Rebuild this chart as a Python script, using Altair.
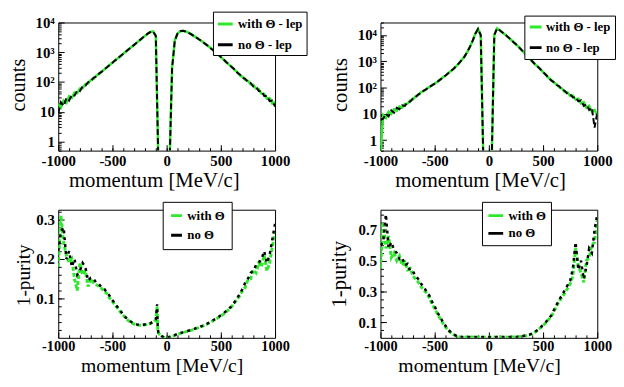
import altair as alt
import pandas as pd

GREEN = "#2ee82e"
BLACK = "#000000"
SERIF = "Liberation Serif"

# ---------------- data ----------------
X_TOP = list(range(-1000, 1001, 25))
X_BR = list(range(-1000, 1001, 25))
X_BL = list(range(-1000, -99, 25)) + [-88, -82] + list(range(-75, 1001, 25))

TOP_NAMES = ["with Θ - lep", "no Θ - lep"]
BOT_NAMES = ["with Θ", "no Θ"]

TL_WITH = [19, 14, 24, 20, 33, 29, 45, 42, 61, 62, 85, 90, 117, 128, 163, 184, 229, 262, 320, 372,
           452, 528, 635, 746, 895, 1055, 1262, 1492, 1781, 2110, 2515, 2980, 3550, 4210, 4790, 5000, 3600,
           0.1, 0.1, 0.1, 0.1, 0.1,
           300, 2500, 4200, 5130, 5250, 5010, 4570, 4070, 3550, 3100, 2690, 2340, 2000, 1700, 1445,
           1200, 1000, 832, 700, 570, 472, 385, 330, 258, 220, 168, 150, 118, 110, 84, 80, 60, 58,
           41, 40, 28, 29, 19, 22]
TL_NO = [9, 21, 16, 29, 24, 37, 35, 52, 50, 72, 75, 99, 108, 138, 153, 192, 220, 270, 312, 380,
         443, 535, 628, 754, 887, 1063, 1256, 1500, 1775, 2116, 2509, 2990, 3545, 4220, 4780, 5020, 3500,
         0.1, 0.1, 0.1, 0.1, 0.1,
         280, 2450, 4250, 5100, 5240, 5020, 4560, 4080, 3540, 3110, 2680, 2350, 1990, 1710, 1440,
         1205, 995, 836, 688, 580, 464, 393, 318, 268, 208, 180, 140, 128, 100, 93, 71, 69, 50,
         49, 34, 34, 23, 24, 15]

TR_WITH = [0.3, 9, 7, 12, 10, 15, 13, 19, 17.5, 24, 24.5, 33, 35.5, 47, 52.5, 66.5, 74.5, 90.5, 104, 124,
           140, 167, 199, 241, 287, 356, 426, 526, 660, 852, 1120, 1516, 2235, 3550, 6020, 11200, 17000, 10100,
           0.1, 0.1, 0.1, 0.1,
           9900, 17800, 15100, 12600, 10450, 8530, 6900, 5510, 4450, 3560, 2745, 2145, 1655, 1292, 997,
           779, 628, 505, 386, 312, 237, 194, 155, 133, 103, 91, 68, 66, 48, 50, 35, 38, 25, 28, 17,
           20, 12, 14, 9]
TR_NO = [6, 6.5, 10, 8, 13.5, 11, 17, 15, 21, 20, 28, 29.5, 39, 43.5, 55.5, 63.5, 77.5, 87.5, 106, 122,
         142, 165, 201, 239, 289, 354, 428, 524, 662, 850, 1124, 1512, 2243, 3546, 6030, 11240, 16960, 9900,
         0.1, 0.1, 0.1, 0.1,
         10100, 17760, 15180, 12580, 10490, 8490, 6936, 5480, 4484, 3536, 2763, 2131, 1665, 1284, 1003,
         773, 634, 497, 392, 306, 243, 188, 161, 125, 111, 83, 76, 58, 56, 42, 43, 30, 33, 20, 23,
         14, 17, 3, 11]

BL_WITH = [0.18, 0.31, 0.24, 0.21, 0.19, 0.20, 0.15, 0.12, 0.19, 0.16, 0.17, 0.13, 0.15, 0.14, 0.135,
           0.13, 0.125, 0.118, 0.112, 0.10, 0.092, 0.083, 0.074, 0.065, 0.057, 0.049, 0.043, 0.038,
           0.035, 0.033, 0.032, 0.032, 0.033, 0.034, 0.036, 0.040, 0.045,
           0.080, 0.018,
           0.012, 0.004, 0.001, 0.000, 0.002, 0.004, 0.006, 0.009, 0.011, 0.013, 0.015, 0.018, 0.019,
           0.021, 0.024, 0.026, 0.029, 0.032, 0.035, 0.039, 0.043, 0.047, 0.051, 0.056, 0.060, 0.066,
           0.072, 0.079, 0.088, 0.098, 0.107, 0.120, 0.128, 0.148, 0.150, 0.172, 0.165, 0.19, 0.18,
           0.21, 0.17, 0.19, 0.23, 0.27]
BL_NO = [0.22, 0.27, 0.28, 0.20, 0.22, 0.18, 0.20, 0.16, 0.17, 0.19, 0.18, 0.145, 0.152, 0.15, 0.14,
         0.136, 0.128, 0.124, 0.115, 0.106, 0.096, 0.086, 0.077, 0.068, 0.059, 0.051, 0.045, 0.040,
         0.036, 0.034, 0.033, 0.033, 0.034, 0.035, 0.037, 0.041, 0.047,
         0.085, 0.022,
         0.013, 0.005, 0.001, 0.000, 0.002, 0.005, 0.007, 0.010, 0.012, 0.014, 0.016, 0.018, 0.020,
         0.022, 0.025, 0.027, 0.030, 0.033, 0.036, 0.040, 0.044, 0.048, 0.052, 0.057, 0.062, 0.068,
         0.074, 0.081, 0.090, 0.100, 0.112, 0.124, 0.140, 0.150, 0.165, 0.170, 0.185, 0.19, 0.20,
         0.22, 0.19, 0.21, 0.25, 0.29]

BR_WITH = [0.45, 0.75, 0.58, 0.66, 0.52, 0.55, 0.50, 0.53, 0.47, 0.49, 0.44, 0.45, 0.40, 0.38, 0.36,
           0.33, 0.31, 0.29, 0.26, 0.22, 0.19, 0.155, 0.125, 0.095, 0.07, 0.048, 0.033, 0.02, 0.011,
           0.006, 0.005, 0.004, 0.006, 0.004, 0.005, 0.003, 0.005, 0.004, 0.006, 0.004, 0.005, 0.003,
           0.005, 0.004, 0.006, 0.004, 0.005, 0.004, 0.006, 0.005, 0.006, 0.007, 0.009, 0.012, 0.015,
           0.019, 0.025, 0.036, 0.050, 0.064, 0.080, 0.098, 0.118, 0.138, 0.170, 0.205, 0.24, 0.265,
           0.29, 0.32, 0.35, 0.40, 0.58, 0.47, 0.42, 0.36, 0.50, 0.52, 0.60, 0.62, 0.76]
BR_NO = [0.60, 0.62, 0.80, 0.58, 0.62, 0.57, 0.55, 0.51, 0.52, 0.47, 0.48, 0.43, 0.43, 0.40, 0.38,
         0.35, 0.33, 0.30, 0.275, 0.235, 0.205, 0.165, 0.135, 0.105, 0.078, 0.052, 0.036, 0.023, 0.013,
         0.008, 0.005, 0.006, 0.004, 0.006, 0.004, 0.006, 0.004, 0.005, 0.004, 0.006, 0.004, 0.005,
         0.004, 0.006, 0.004, 0.005, 0.006, 0.004, 0.005, 0.006, 0.005, 0.008, 0.010, 0.013, 0.017,
         0.021, 0.028, 0.038, 0.052, 0.067, 0.084, 0.102, 0.122, 0.145, 0.180, 0.215, 0.25, 0.275,
         0.31, 0.34, 0.37, 0.45, 0.62, 0.44, 0.50, 0.38, 0.46, 0.58, 0.55, 0.70, 0.80]

X_MAJOR = [-1000, -500, 0, 500, 1000]
X_MINOR = list(range(-900, 901, 100))
LOG_MAJOR = [1, 10, 100, 1000, 10000]
LOG_LABELS = "datum.value == 1 ? '1' : datum.value == 10 ? '10' : datum.value == 100 ? '10²' : datum.value == 1000 ? '10³' : '10⁴'"

W, H = 220, 130


def frame(xs, with_vals, no_vals, names):
    assert len(xs) == len(with_vals) == len(no_vals), (len(xs), len(with_vals), len(no_vals))
    return pd.DataFrame({
        "momentum": list(xs) + list(xs),
        "value": list(with_vals) + list(no_vals),
        "series": [names[0]] * len(xs) + [names[1]] * len(xs),
    })


def log_minor(lo_exp, hi_exp, top):
    out = []
    for e in range(lo_exp, hi_exp + 1):
        for m in range(2, 10):
            v = m * 10.0 ** e
            if v <= top:
                out.append(v)
    return out


def panel(df, names, ylog, ydomain, ymajor, yminor, ylabel_expr, ytitle, ytx, yty, ytsize,
          xtx, xty, xtsize, xlab, leg, gstyle, bstyle):
    xs = alt.Scale(domain=[-1000, 1000], nice=False, zero=False)
    if ylog:
        ys = alt.Scale(type="log", domain=ydomain, nice=False)
    else:
        ys = alt.Scale(domain=ydomain, nice=False, zero=False)

    nb = "\u00a0" * leg["nbsp"]
    legend = alt.Legend(
        orient="none", legendX=leg["x"], legendY=leg["y"], title=None, direction="vertical",
        fillColor="white", strokeColor="black", padding=leg["pad"], rowPadding=leg["row"],
        symbolType="stroke", symbolSize=leg["sym"] ** 2, symbolStrokeWidth=3,
        symbolDash=[1, 0],
        labelFont=SERIF, labelFontWeight="bold", labelFontSize=leg["fs"], labelColor="black",
        labelOffset=leg["off"], labelLimit=0,
        labelExpr=f"datum.label + '{nb}'",
    )
    color = alt.Color("series:N", scale=alt.Scale(domain=names, range=[GREEN, BLACK]),
                      legend=legend, sort=names)

    x_major = alt.Axis(orient="bottom", values=X_MAJOR, labelExpr="'' + datum.value",
                       tickSize=6, offset=-6, labelPadding=xlab["pad"], labelFontSize=xlab["fs"],
                       title="momentum [MeV/c]", titleFontSize=xtsize, titleX=xtx, titleY=xty + 6,
                       titleAlign="center", titleBaseline="alphabetic")
    x_minor = alt.Axis(orient="bottom", values=X_MINOR, labels=False, tickSize=3, offset=-3,
                       title=None)
    y_major = alt.Axis(orient="left", values=ymajor, labelExpr=ylabel_expr,
                       tickSize=6, offset=-6, labelPadding=4,
                       title=ytitle, titleFontSize=ytsize, titleAngle=270, titleX=ytx - 6, titleY=yty,
                       titleAlign="center", titleBaseline="middle")
    y_minor = alt.Axis(orient="left", values=yminor, labels=False, tickSize=3, offset=-3,
                       title=None)

    green = alt.Chart(df).transform_filter(alt.datum.series == names[0]).mark_line(
        clip=True, **gstyle
    ).encode(
        x=alt.X("momentum:Q", scale=xs, axis=x_major),
        y=alt.Y("value:Q", scale=ys, axis=y_major),
        color=color,
    )
    black = alt.Chart(df).transform_filter(alt.datum.series == names[1]).mark_line(
        clip=True, **bstyle
    ).encode(
        x=alt.X("momentum:Q", scale=xs, axis=x_minor),
        y=alt.Y("value:Q", scale=ys, axis=y_minor),
        color=color,
    )
    return alt.layer(green, black).resolve_axis(x="independent", y="independent").properties(
        width=W, height=H
    )


top_g = {"strokeWidth": 2.5}
top_b = {"strokeWidth": 2, "strokeDash": [6, 3]}
bot_g = {"strokeWidth": 3, "strokeDash": [4, 2]}
bot_b = {"strokeWidth": 2.5, "strokeDash": [3, 4]}

top_xlab = {"pad": 3, "fs": 15}
bot_xlab = {"pad": 2, "fs": 14.5}

tl = panel(frame(X_TOP, TL_WITH, TL_NO, TOP_NAMES), TOP_NAMES, True, [0.5, 10000],
           LOG_MAJOR, log_minor(-1, 3, 10000), LOG_LABELS, "counts", -40, 63, 20.5,
           97, 36.5, 21, top_xlab,
           {"x": 157, "y": -11, "pad": 3.5, "row": 5, "sym": 15, "fs": 13, "off": 4, "nbsp": 0},
           top_g, top_b)
tr = panel(frame(X_TOP, TR_WITH, TR_NO, TOP_NAMES), TOP_NAMES, True, [0.4, 30000],
           LOG_MAJOR, log_minor(-1, 4, 30000), LOG_LABELS, "counts", -40, 63, 21,
           101, 36.5, 21, top_xlab,
           {"x": 146, "y": -7, "pad": 4, "row": 6, "sym": 12, "fs": 13, "off": 3, "nbsp": 0},
           top_g, top_b)
bl = panel(frame(X_BL, BL_WITH, BL_NO, BOT_NAMES), BOT_NAMES, False, [0, 0.325],
           [0.1, 0.2, 0.3], [round(0.02 * i, 2) for i in range(1, 17)],
           "format(datum.value, '.1f')", "1-purity", -35, 66, 19.5,
           105, 34.5, 20, bot_xlab,
           {"x": 106, "y": -8, "pad": 7, "row": 6, "sym": 11, "fs": 13, "off": 4, "nbsp": 15},
           bot_g, bot_b)
br = panel(frame(X_BR, BR_WITH, BR_NO, BOT_NAMES), BOT_NAMES, False, [0, 0.83],
           [0.1, 0.3, 0.5, 0.7], [round(0.05 * i, 2) for i in range(1, 17)],
           "format(datum.value, '.1f')", "1-purity", -41.5, 65, 21,
           100, 34.5, 20, bot_xlab,
           {"x": 103, "y": -8, "pad": 5, "row": 2, "sym": 15, "fs": 13, "off": 4, "nbsp": 8},
           bot_g, bot_b)

chart = alt.concat(
    tl, tr, bl, br, columns=2, spacing={"row": 60, "column": 107}, bounds="flush"
).resolve_scale(
    color="independent", x="independent", y="independent"
).resolve_legend(color="independent").properties(
    padding={"left": 0, "top": 0, "right": 0, "bottom": -4}
).configure(background="white").configure_view(
    stroke="black", strokeWidth=1
).configure_axis(
    grid=False, domain=False, labelFlush=False, labelOverlap=False,
    tickColor="black", tickWidth=1, labelColor="black", titleColor="black",
    labelFont=SERIF, titleFont=SERIF, labelFontWeight="bold", titleFontWeight="normal",
    labelFontSize=15,
)

chart.save("out.html", embed_options={"renderer": "svg", "actions": False})
